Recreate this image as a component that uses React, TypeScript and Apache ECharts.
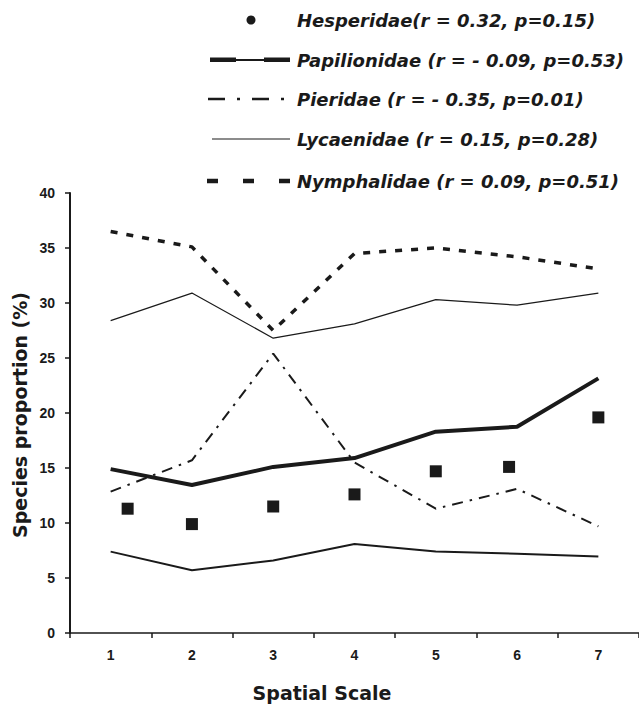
import React, { useEffect, useRef } from "react";
import * as echarts from "echarts";

const categories = ["1", "2", "3", "4", "5", "6", "7"];
const yTicks = [0, 5, 10, 15, 20, 25, 30, 35, 40];
const hesperidae = [11.3, 9.9, 11.5, 12.6, 14.7, 15.1, 19.6];
const papilionidae = [14.9, 13.45, 15.1, 15.9, 18.3, 18.75, 23.15];
const pieridae = [12.85, 15.7, 25.4, 15.5, 11.3, 13.1, 9.7];
const lycaenidae = [28.4, 30.9, 26.8, 28.1, 30.3, 29.8, 30.9];
const nymphalidae = [36.5, 35.1, 27.5, 34.5, 35.0, 34.2, 33.1];
const unlabeledFamily = [7.4, 5.7, 6.6, 8.1, 7.4, 7.2, 6.95];
const legendLabels = [
  "Hesperidae(r = 0.32, p=0.15)",
  "Papilionidae (r = - 0.09, p=0.53)",
  "Pieridae (r = - 0.35, p=0.01)",
  "Lycaenidae (r = 0.15, p=0.28)",
  "Nymphalidae (r = 0.09, p=0.51)",
];
const xAxisTitle = "Spatial Scale";
const yAxisTitle = "Species proportion (%)";

// styling only: horizontal nudges of the square markers as drawn in the figure
const hesperidaeNudge = [17, 0, 0, 0, 0, -8, 0];

const INK = "#1a1a1a";
const LEGEND_FONT = "'DejaVu Sans', sans-serif";
const TICK_FONT = "Liberation Sans";

export default function App() {
  const ref = useRef<HTMLDivElement>(null);
  useEffect(() => {
    if (!ref.current) return;
    const chart = echarts.init(ref.current, undefined, { renderer: "svg" });
    const legendY = [20, 60, 99, 139, 181];
    const textX = 297;
    const legendGraphics: any[] = [];
    legendLabels.forEach((label, i) => {
      legendGraphics.push({
        type: "text",
        x: textX,
        y: legendY[i],
        style: {
          text: label,
          font: `italic bold 18px ${LEGEND_FONT}`,
          fill: INK,
          textAlign: "left",
          textVerticalAlign: "middle",
        },
      });
    });
    // Hesperidae dot
    legendGraphics.push({ type: "circle", shape: { cx: 251, cy: legendY[0], r: 4.5 }, style: { fill: INK } });
    // Papilionidae
    legendGraphics.push({ type: "line", shape: { x1: 210, y1: legendY[1], x2: 290, y2: legendY[1] }, style: { stroke: INK, lineWidth: 2 } });
    legendGraphics.push({ type: "rect", shape: { x: 210, y: legendY[1] - 2.5, width: 26, height: 4.5 }, style: { fill: INK } });
    legendGraphics.push({ type: "rect", shape: { x: 264, y: legendY[1] - 2.5, width: 26, height: 4.5 }, style: { fill: INK } });
    // Pieridae
    legendGraphics.push({ type: "line", shape: { x1: 208, y1: legendY[2], x2: 295, y2: legendY[2] }, style: { stroke: INK, lineWidth: 2.5, lineDash: [17, 12, 3, 12] } });
    // Lycaenidae
    legendGraphics.push({ type: "line", shape: { x1: 212, y1: legendY[3], x2: 290, y2: legendY[3] }, style: { stroke: INK, lineWidth: 1.2 } });
    // Nymphalidae
    legendGraphics.push({ type: "line", shape: { x1: 207, y1: legendY[4], x2: 291, y2: legendY[4] }, style: { stroke: INK, lineWidth: 4.5, lineDash: [11, 25] } });

    const titleFont = `bold 19px ${LEGEND_FONT}`;
    const graphics = [
      ...legendGraphics,
      {
        type: "text",
        x: 322,
        y: 693,
        style: { text: xAxisTitle, font: titleFont, fill: INK, textAlign: "center", textVerticalAlign: "middle" },
      },
      {
        type: "text",
        x: 20,
        y: 415,
        rotation: Math.PI / 2,
        style: { text: yAxisTitle, font: titleFont, fill: INK, textAlign: "center", textVerticalAlign: "middle" },
      },
    ];

    const lineSeries = (name: string, data: number[], lineStyle: any, z = 2) => ({
      name,
      type: "line",
      data,
      symbol: "none",
      z,
      lineStyle: { color: INK, ...lineStyle },
    });

    chart.setOption({
      animation: false,
      backgroundColor: "#ffffff",
      grid: { left: 70, right: -22, top: 193, bottom: 72, containLabel: false },
      xAxis: {
        type: "category",
        data: categories,
        boundaryGap: true,
        axisLine: { lineStyle: { color: INK, width: 1.5 } },
        axisTick: { show: true, length: 5, lineStyle: { color: INK, width: 1.5 } },
        axisLabel: { color: INK, fontFamily: TICK_FONT, fontWeight: "bold", fontSize: 14, margin: 15 },
      },
      yAxis: {
        type: "value",
        min: yTicks[0],
        max: yTicks[yTicks.length - 1],
        interval: yTicks[1] - yTicks[0],
        splitLine: { show: false },
        axisLine: { show: true, lineStyle: { color: INK, width: 2 } },
        axisTick: { show: true, length: 5, lineStyle: { color: INK, width: 1.5 } },
        axisLabel: { color: INK, fontFamily: TICK_FONT, fontWeight: "bold", fontSize: 14, margin: 15 },
      },
      series: [
        lineSeries("Nymphalidae", nymphalidae, { width: 3.5, type: [7, 9] }),
        lineSeries("Lycaenidae", lycaenidae, { width: 1.2 }),
        lineSeries("Pieridae", pieridae, { width: 2, type: [11, 7, 2.5, 7] }),
        lineSeries("Papilionidae", papilionidae, { width: 4 }),
        lineSeries("Other", unlabeledFamily, { width: 2 }),
        {
          name: "Hesperidae",
          type: "scatter",
          symbol: "rect",
          symbolSize: 12,
          z: 3,
          itemStyle: { color: INK, opacity: 1 },
          data: hesperidae.map((v, i) => ({ value: v, symbolOffset: [hesperidaeNudge[i], 0] })),
        },
      ],
      graphic: graphics,
    });
    return () => chart.dispose();
  }, []);
  return (
    <div
      ref={ref}
      style={{ position: "fixed", left: 0, top: 0, width: 639, height: 705, background: "#fff" }}
    />
  );
}
